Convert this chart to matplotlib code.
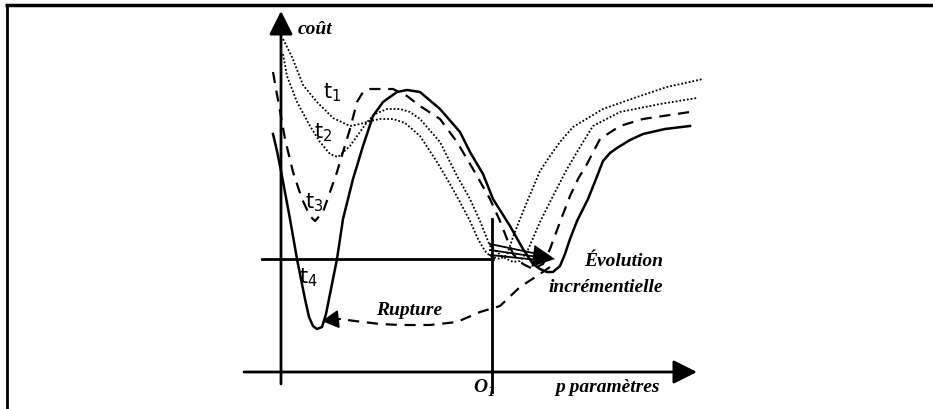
import matplotlib
import matplotlib.pyplot as plt

matplotlib.use("Agg")

# diagram coordinates: p = parameter (right), c = cost (up), origin at the axes crossing
t1_p = [2, 11, 22, 36, 52, 69, 79, 89, 99, 112, 124, 139, 156, 169, 179, 189, 197, 204, 209, 219,
        226, 232, 239, 246, 259, 269, 279, 292, 322, 356, 386, 422]
t1_c = [333, 315, 287, 270, 254, 246, 248, 251, 253, 253, 249, 236, 210, 188, 170, 151, 133, 121, 116, 113,
        117, 135, 153, 170, 201, 216, 230, 245, 263, 275, 285, 293]

t2_p = [2, 6, 16, 29, 39, 49, 57, 69, 79, 86, 94, 106, 119, 129, 139, 159, 176, 189, 199, 209, 222,
        232, 239, 246, 259, 272, 286, 299, 312, 339, 379, 416]
t2_c = [318, 296, 270, 246, 230, 218, 215, 226, 240, 250, 258, 263, 263, 260, 253, 230, 196, 173, 151, 126, 115,
        110, 111, 120, 150, 176, 203, 225, 246, 260, 268, 274]

t3_p = [-8, -5, -1, 4, 12, 21, 29, 34, 42, 49, 56, 62, 69, 76, 82, 89, 112, 126, 139, 159, 176, 192, 209,
        219, 226, 232, 242, 252, 262, 269, 279, 289, 297, 306, 319, 339, 362, 409]
t3_c = [300, 283, 261, 233, 200, 173, 156, 151, 160, 180, 200, 220, 243, 270, 280, 283, 283, 276, 266, 253, 230, 203, 173,
        151, 133, 118, 108, 103, 108, 123, 150, 176, 193, 208, 233, 246, 253, 260]

t4_p = [-8, -4, 0, 9, 16, 24, 28, 32, 36, 41, 45, 49, 56, 62, 72, 82, 92, 102, 116, 126, 139, 159, 179,
        189, 202, 212, 229, 242, 252, 259, 266, 272, 279, 284, 289, 296, 307, 315, 322, 329, 336, 349, 362, 384, 409]
t4_c = [238, 221, 201, 153, 113, 73, 55, 46, 43, 45, 58, 78, 113, 153, 193, 226, 256, 270, 280, 282, 280, 263, 240,
        220, 198, 173, 146, 123, 108, 103, 100, 100, 106, 118, 133, 151, 173, 193, 211, 219, 224, 232, 238, 243, 246]

rupture_p = [269, 256, 239, 219, 199, 176, 149, 119, 99, 74, 59]
rupture_c = [105, 96, 85, 66, 60, 50, 47, 47, 48, 51, 53]

evolution_start_c = [128, 122, 117]
evolution_end_c = [118, 115, 112]

labels_t = ["t$_1$", "t$_2$", "t$_3$", "t$_4$"]
labels_t_pos = [(42, 280), (33, 240), (24, 170), (18, 95)]

fig = plt.figure(figsize=(9.33, 4.10), dpi=100)
ax = fig.add_axes([0, 0, 1, 1])
ax.set_xlim(-281, 652)
ax.set_ylim(-37, 373)
ax.axis("off")

serif = dict(family="Liberation Serif", style="italic", weight="bold", color="black")
arrow_kw = dict(arrowstyle="-|>,head_length=0.4,head_width=0.2", mutation_scale=36,
                lw=2, color="black", shrinkA=0, shrinkB=0)

# frame of the figure box
ax.plot([-276, 652], [367, 367], color="black", lw=2.5, solid_capstyle="butt")
ax.plot([-274, -274], [367, -37], color="black", lw=2, solid_capstyle="butt")

# axes
ax.annotate("", xy=(0, 361), xytext=(0, -12), arrowprops=arrow_kw)
ax.annotate("", xy=(416, 0), xytext=(-37, 0), arrowprops=arrow_kw)
ax.plot([-19, 212], [113, 113], color="black", lw=2)
ax.plot([211, 211], [-20, 153], color="black", lw=2)

# cost curves
ax.plot(t1_p, t1_c, color="black", lw=1.3, linestyle=(0, (1, 1.1)))
ax.plot(t2_p, t2_c, color="black", lw=1.3, linestyle=(0, (1, 1.1)))
ax.plot(t3_p, t3_c, color="black", lw=1.6, linestyle=(0, (5, 3.5)))
ax.plot(t4_p, t4_c, color="black", lw=1.8)

# rupture arrow
ax.plot(rupture_p, rupture_c, color="black", lw=1.6, linestyle=(0, (5, 3.5)))
ax.annotate("", xy=(41, 51), xytext=(59, 53),
            arrowprops=dict(arrowstyle="-|>,head_length=0.45,head_width=0.25", mutation_scale=22,
                            lw=1.5, color="black", shrinkA=0, shrinkB=0))

# incremental evolution arrow
for c0, c1 in zip(evolution_start_c, evolution_end_c):
    ax.plot([209, 257], [c0, c1], color="black", lw=1.3)
ax.annotate("", xy=(274, 113), xytext=(209, 122),
            arrowprops=dict(arrowstyle="-|>,head_length=0.4,head_width=0.2", mutation_scale=40,
                            lw=0, color="black", shrinkA=0, shrinkB=0))

# texts
ax.text(17, 343, "coût", ha="left", va="center", fontsize=14, **serif)
ax.text(379, -15, "p paramètres", ha="right", va="center", fontsize=14, **serif)
ax.text(206, -15, "O", ha="right", va="center", fontsize=14, **serif)
ax.text(207, -20, "1", ha="left", va="center", fontsize=10, **serif)
ax.text(161, 62, "Rupture", ha="right", va="center", fontsize=14, **serif)
ax.text(382, 111, "Évolution", ha="right", va="center", fontsize=14, **serif)
ax.text(382, 86, "incrémentielle", ha="right", va="center", fontsize=14, **serif)
for lab, (p, c) in zip(labels_t, labels_t_pos):
    ax.text(p, c, lab, ha="left", va="center", family="DejaVu Sans", fontsize=15)

fig.savefig("out.png", dpi=100, facecolor="white")
